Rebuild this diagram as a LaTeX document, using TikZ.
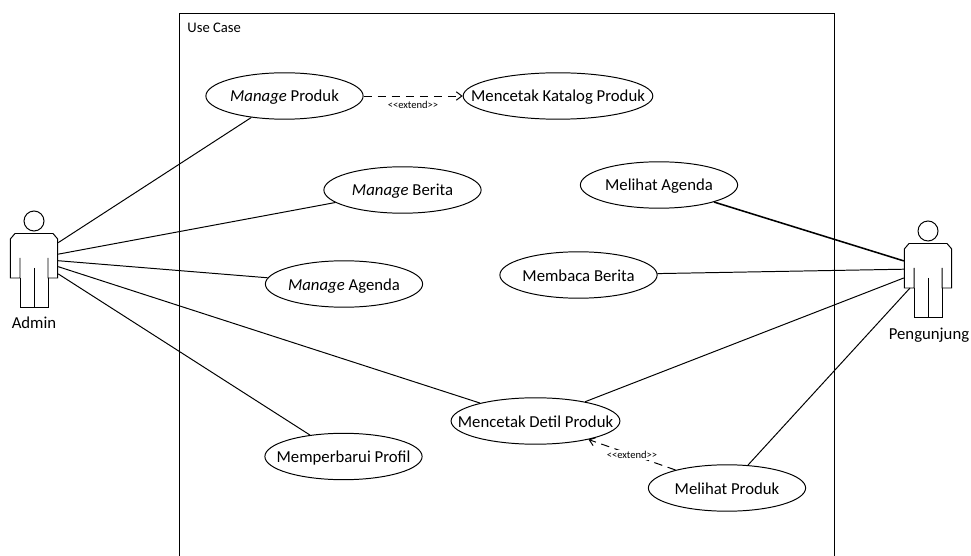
\documentclass[tikz,border=0pt]{standalone}
\usepackage{fontspec}
\setmainfont{Carlito}
\usetikzlibrary{arrows.meta,shapes.geometric}
\tikzset{
  usecase/.style={draw, ellipse, minimum width=3.93cm, minimum height=1.16cm, inner xsep=-1.5cm, inner ysep=-.5cm, text height=.3cm, text depth=0cm, font=\fontsize{11.9}{14}\selectfont},
  actorbox/.style={minimum width=1.185cm, minimum height=1.84cm, inner sep=0pt},
  actorname/.style={inner sep=0pt, font=\fontsize{11.9}{14}\selectfont},
  extendlabel/.style={inner sep=1pt, font=\fontsize{7.5}{9}\selectfont},
  extendline/.style={dashed, dash pattern=on 6pt off 4pt, -{Straight Barb[length=4pt,width=6pt]}},
  pics/actor/.style={code={
    \draw (0,-49.5) circle [radius=.25cm];
    \draw (-14,-12.5) -- (-14,7.5) -- (-23.7,7.5) -- (-23.7,-31.5) -- (-19,-37) -- (19,-37) -- (23.7,-31.5) -- (23.7,7.5) -- (14,7.5) -- (14,-12.5);
    \draw (-14,7.5) -- (-14,36.5) -- (14,36.5) -- (14,7.5);
    \draw (0,-2.5) -- (0,36.5);
  }}
}
\begin{document}
\begin{tikzpicture}[x=.025cm,y=-.025cm,line width=.7pt]
  \useasboundingbox (0,0) rectangle (971,556);
  % system frame
  \draw (179,556) -- (179,13) -- (834,13) -- (834,556);
  \node[inner sep=0pt,anchor=west,font=\fontsize{10.4}{12}\selectfont] (usecasetitle) at (187,28) {Use Case};

  % actors
  \node[actorbox] (admin) at (34,270.5) {};
  \pic at (admin) {actor};
  \node[actorname] (adminname) at (34,323) {Admin};
  \node[actorbox] (pengunjung) at (928,280.5) {};
  \pic at (pengunjung) {actor};
  \node[actorname] (pengunjungname) at (929,335) {Pengunjung};
  \coordinate (pengunjungarm) at (910,288);

  % use cases
  \node[usecase] (manageproduk) at (284.5,96) {\textit{Manage} Produk};
  \node[usecase,minimum width=4.74cm] (katalog) at (558,96) {Mencetak Katalog Produk};
  \node[usecase] (manageberita) at (402.5,190) {\textit{Manage} Berita};
  \node[usecase] (manageagenda) at (344,284) {\textit{Manage} Agenda};
  \node[usecase] (lihatagenda) at (659,185) {Melihat Agenda};
  \node[usecase] (bacaberita) at (578.5,275) {Membaca Berita};
  \node[usecase,minimum width=4.22cm] (detilproduk) at (535.5,421) {Mencetak Detil Produk};
  \node[usecase] (profil) at (343.5,456.5) {Memperbarui Profil};
  \node[usecase] (lihatproduk) at (727,488) {Melihat Produk};

  % admin
  \draw (admin.49.5) -- (manageproduk);
  \draw (admin.34.8) -- (manageberita);
  \draw (admin.22.5) -- (manageagenda);
  \draw (admin.9) -- (detilproduk);
  \draw (admin.-8.4) -- (profil);

  % pengunjung
  \draw[line width=1.1pt] (pengunjung.141) -- (lihatagenda);
  \draw (pengunjung.155.4) -- (bacaberita);
  \draw (pengunjung.174) -- (detilproduk);
  \draw (pengunjungarm) -- (lihatproduk);

  % extend
  \draw[extendline] (manageproduk) -- (katalog);
  \node[extendlabel] (extendatas) at (413,105) {<{}<extend>{}>};
  \draw[extendline] (lihatproduk) -- (detilproduk) node[extendlabel,fill=white,pos=.5] (extendbawah) {<{}<extend>{}>};
\end{tikzpicture}
\end{document}
